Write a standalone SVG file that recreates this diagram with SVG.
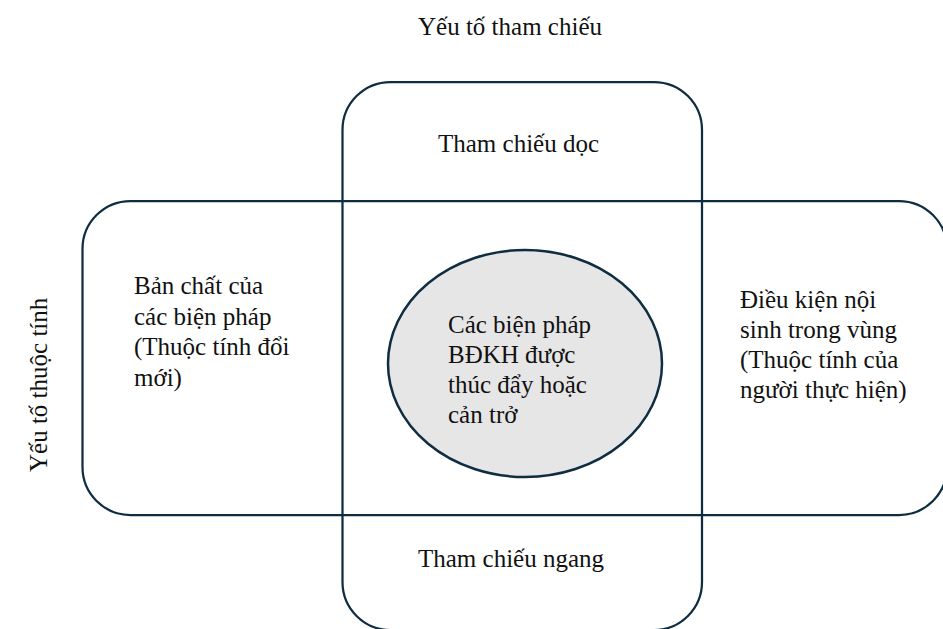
<svg xmlns="http://www.w3.org/2000/svg" width="943" height="629" viewBox="0 0 943 629">
<style>
.frame{fill:none;stroke:#0f2d40;stroke-width:2.25}
.core{fill:#e6e6e6;stroke:#0f2d40;stroke-width:2.5}
text{font-family:"Liberation Serif","Times New Roman",serif;font-size:25px;fill:#111111}
</style>
<rect x="0" y="0" width="943" height="629" fill="#ffffff"/>
<g id="title-top"><text x="418" y="35">Yếu tố tham chiếu</text></g>
<g id="title-left"><text transform="translate(46.5,472) rotate(-90)">Yếu tố thuộc tính</text></g>
<g id="connectors"></g>
<g id="horizontal-frame"><rect class="frame" x="82.5" y="201" width="864.5" height="314" rx="48" ry="48"/></g>
<g id="vertical-frame"><rect class="frame" x="342.5" y="82" width="359.5" height="548" rx="48" ry="48"/></g>
<g id="tham-chieu-doc"><text x="438" y="152">Tham chiếu dọc</text></g>
<g id="tham-chieu-ngang"><text x="418" y="567">Tham chiếu ngang</text></g>
<g id="ban-chat">
<text x="134" y="294">Bản chất của</text>
<text x="134" y="324.5">các biện pháp</text>
<text x="134" y="355">(Thuộc tính đổi</text>
<text x="134" y="385.5">mới)</text>
</g>
<g id="dieu-kien">
<text x="740" y="308">Điều kiện nội</text>
<text x="740" y="338">sinh trong vùng</text>
<text x="740" y="368">(Thuộc tính của</text>
<text x="740" y="398">người thực hiện)</text>
</g>
<g id="center">
<ellipse class="core" cx="525" cy="363.5" rx="137" ry="113.5"/>
<text x="448" y="333">Các biện pháp</text>
<text x="448" y="363">BĐKH được</text>
<text x="448" y="393">thúc đẩy hoặc</text>
<text x="448" y="422.5">cản trở</text>
</g>
</svg>
